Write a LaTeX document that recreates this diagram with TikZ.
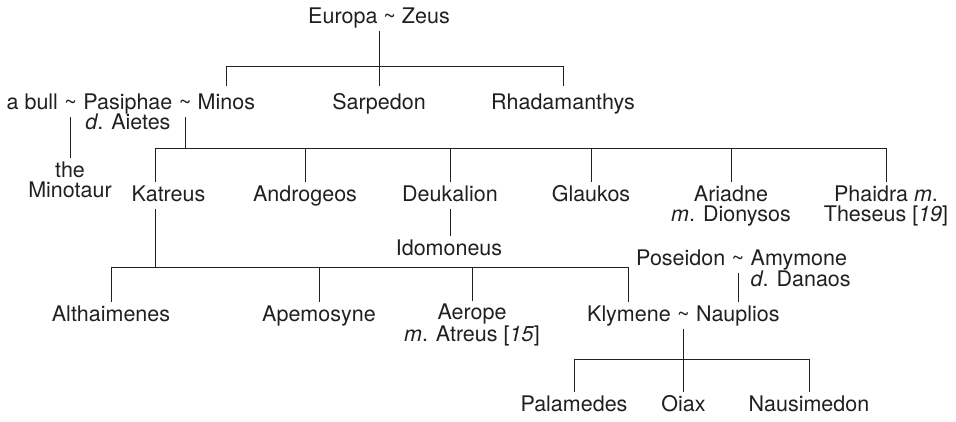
\documentclass[tikz,border=0pt]{standalone}
\usepackage{fontspec}
\setmainfont{TeX Gyre Heros}
\definecolor{ink}{RGB}{35,31,32}
\begin{document}
\begin{tikzpicture}[x=1pt,y=-1pt,
  every node/.style={font=\fontsize{21.5}{20}\selectfont, text=ink,
    inner xsep=0pt, inner ysep=3pt, anchor=base},
  pn/.style={text height=15.5pt, text depth=4.5pt},
  multi/.style={align=center},
  tie/.style={pn, inner xsep=6pt},
  rel/.style={draw=ink, line width=1pt}]
\useasboundingbox (0,0) rectangle (956,421);

% generation 0
\node[pn] (europa) at (379,23) {Europa \textasciitilde{} Zeus};

% generation 1
\node[tie] (t1) at (70.7,109.5) {\textasciitilde};
\node[pn, anchor=base east] (bull) at (t1.base west) {a bull};
\node[pn, anchor=base west] (pasiphae) at (t1.base east) {Pasiphae};
\node[tie, anchor=base west] (t2) at (pasiphae.base east) {\textasciitilde};
\node[pn, anchor=base west, outer ysep=5pt] (minos) at (t2.base east) {Minos};
\node[anchor=base west] (aietes) at ([xshift=2pt,yshift=-19.5pt]pasiphae.base west) {\textit{d}. Aietes};
\node[pn, outer ysep=5pt] (sarpedon) at (379,109.5) {Sarpedon};
\node[pn, outer ysep=5pt] (rhad) at (563,109.5) {Rhadamanthys};

% generation 2
\node[multi] (minotaur) at (70,197) {the\\Minotaur};
\node[pn] (katreus) at (168.5,201) {Katreus};
\node[pn] (androgeos) at (305,201) {Androgeos};
\node[pn] (deukalion) at (450,201) {Deukalion};
\node[pn] (glaukos) at (591,201) {Glaukos};
\node[multi] (ariadne) at (731,221) {Ariadne\\\textit{m}. Dionysos};
\node[multi] (phaidra) at (886,221) {Phaidra \textit{m}.\\Theseus [\textit{19}]};
\coordinate (katN) at ([xshift=-13.5pt]katreus.north);
\coordinate (katS) at ([xshift=-13.5pt]katreus.south);

% generation 3
\node[pn] (idomeneus) at (449,255) {Idomoneus};
\node[pn] (althaimenes) at (111,321) {Althaimenes};
\node[pn] (apemosyne) at (319,321) {Apemosyne};
\node[multi] (aerope) at (472,341) {Aerope\\\textit{m}. Atreus [\textit{15}]};
\node[pn, anchor=base west] (klymene) at (587,321) {Klymene};
\node[tie, anchor=base west] (t4) at (klymene.base east) {\textasciitilde};
\node[pn, anchor=base west] (nauplios) at (t4.base east) {Nauplios};
\node[tie] (t3) at (738,265) {\textasciitilde};
\node[pn, anchor=base east] (poseidon) at (t3.base west) {Poseidon};
\node[pn, anchor=base west] (amymone) at (t3.base east) {Amymone};
\node[anchor=base west] (danaos) at ([yshift=-21pt]amymone.base west) {\textit{d}. Danaos};

% generation 4
\node[pn] (palamedes) at (574,411) {Palamedes};
\node[pn] (oiax) at (t4 |- 0,411) {Oiax};
\node[pn] (nausimedon) at (809,411) {Nausimedon};

% family lines
\coordinate (bus1) at (0,66);
\coordinate (bus2) at (0,148);
\coordinate (bus3) at (0,267);
\coordinate (bus4) at (0,359);

\draw[rel] (europa.south) -- (europa.south |- sarpedon.north);
\draw[rel] (minos.north) -- (minos.north |- bus1) -- (rhad.north |- bus1) -- (rhad.north);

\draw[rel] (t1.south) -- (t1.south |- minotaur.north);

\draw[rel] (t2.south) -- (t2.south |- bus2);
\draw[rel] (katN |- bus2) -- (phaidra.north |- bus2);
\draw[rel] (katN |- bus2) -- (katN);
\foreach \c in {androgeos,deukalion,glaukos,ariadne,phaidra}
  \draw[rel] (\c.north |- bus2) -- (\c.north);

\draw[rel] (deukalion.south) -- (deukalion.south |- idomeneus.north);

\draw[rel] (katS) -- (katS |- bus3);
\draw[rel] (althaimenes.north |- bus3) -- (klymene.north |- bus3);
\foreach \c in {althaimenes,apemosyne,aerope,klymene}
  \draw[rel] (\c.north |- bus3) -- (\c.north);

\draw[rel] (t3.south) -- (t3.south |- nauplios.north);

\draw[rel] (t4.south) -- (oiax.north);
\draw[rel] (palamedes.north |- bus4) -- (nausimedon.north |- bus4);
\foreach \c in {palamedes,nausimedon}
  \draw[rel] (\c.north |- bus4) -- (\c.north);
\end{tikzpicture}
\end{document}
